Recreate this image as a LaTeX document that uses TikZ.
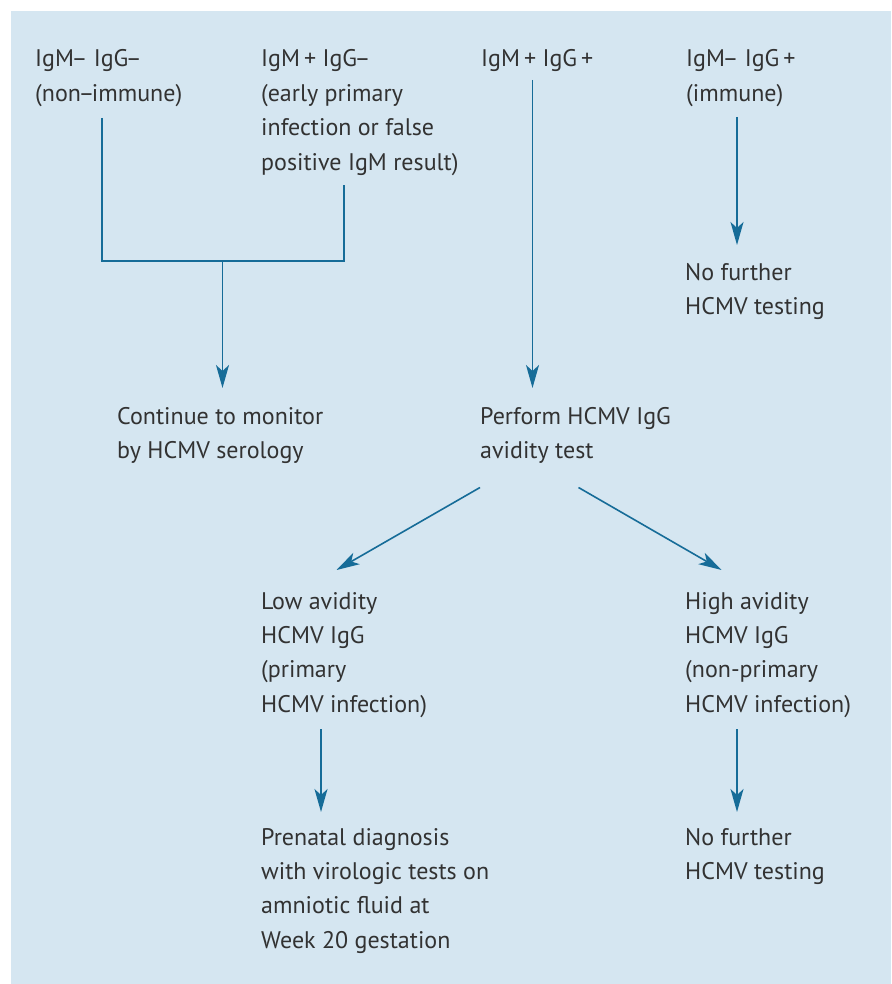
\documentclass[tikz,border=0pt]{standalone}
\usepackage{fontspec}
\setmainfont{PT Sans}
\usetikzlibrary{arrows.meta}
\definecolor{bgblue}{RGB}{213,230,241}
\definecolor{linkblue}{RGB}{22,108,152}
\definecolor{txtgray}{RGB}{50,50,50}
\newcommand{\mylines}[1]{\begin{tabular}[t]{@{}l@{}}#1\end{tabular}}
\newcommand{\dsh}{\kern-2.5pt–}
\begin{document}
\begin{tikzpicture}[x=1pt,y=-1pt,
  txt/.style={anchor=base west,inner sep=0pt,text=txtgray,font=\fontsize{24}{34.4}\selectfont},
  conn/.style={draw=linkblue,line width=1.6pt},
  arr/.style={conn,-{Stealth[length=23pt,width=13pt,inset=6pt]}}]
\useasboundingbox (0,0) rectangle (891,984);
\fill[bgblue] (11,11) rectangle (891,984);
% texts
\node[txt] (nonimm) at (35,67) {\mylines{IgM\dsh{} IgG\dsh\\(non\dsh\kern-2.5pt immune)}};
\node[txt] (early) at (261,67) {\mylines{IgM\,+ IgG\dsh\\(early primary\\infection or false\\positive IgM result)}};
\node[txt] (both) at (481,67) {\mylines{IgM\,+ IgG\,+}};
\node[txt] (imm) at (686,67) {\mylines{IgM\dsh{} IgG\,+\\(immune)}};
\node[txt] (nofurther1) at (685,280) {\mylines{No further\\HCMV testing}};
\node[txt] (monitor) at (117,424) {\mylines{Continue to monitor\\by HCMV serology}};
\node[txt] (avidity) at (480,424) {\mylines{Perform HCMV IgG\\avidity test}};
\node[txt] (low) at (261,609) {\mylines{Low avidity\\HCMV IgG\\(primary\\HCMV infection)}};
\node[txt] (high) at (685,609) {\mylines{High avidity\\HCMV IgG\\(non-primary\\HCMV infection)}};
\node[txt] (prenatal) at (261,845) {\mylines{Prenatal diagnosis\\with virologic tests on\\amniotic fluid at\\Week 20 gestation}};
\node[txt] (nofurther2) at (685,845) {\mylines{No further\\HCMV testing}};
% connector points
\coordinate (a1) at (102,118);
\coordinate (a2) at (102,261);
\coordinate (b1) at (344,185);
\coordinate (b2) at (344,261);
\coordinate (j) at (222.5,261);
\coordinate (jt) at (222.5,388);
\coordinate (c1) at (532.5,80);
\coordinate (c2) at (532.5,388);
\coordinate (d1) at (737,117);
\coordinate (d2) at (737,245);
\coordinate (e1) at (480,487.5);
\coordinate (e2) at (336.5,570);
\coordinate (f1) at (578.5,487.5);
\coordinate (f2) at (721.5,570);
\coordinate (g1) at (321,729);
\coordinate (g2) at (321,812);
\coordinate (h1) at (737,729);
\coordinate (h2) at (737,812);
% connectors
\draw[conn] (a1) -- (a2) -- (b2) -- (b1);
\draw[arr] (j) -- (jt);
\draw[arr] (c1) -- (c2);
\draw[arr] (d1) -- (d2);
\draw[arr] (e1) -- (e2);
\draw[arr] (f1) -- (f2);
\draw[arr] (g1) -- (g2);
\draw[arr] (h1) -- (h2);
\end{tikzpicture}
\end{document}
